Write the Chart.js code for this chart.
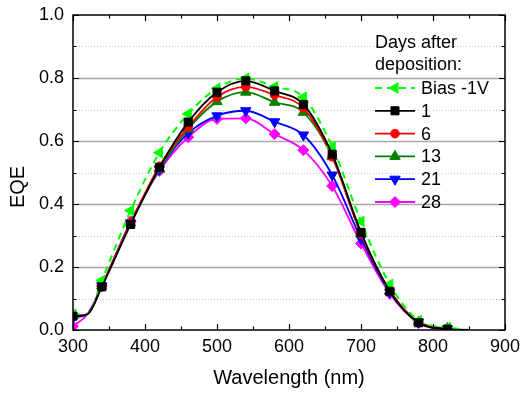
<!DOCTYPE html>
<html>
<head>
<meta charset="utf-8">
<script src="https://cdn.jsdelivr.net/npm/chart.js@4"></script>
<style>
  body { margin: 0; background: #fff; }
  canvas { display: block; }
</style>
</head>
<body>
<canvas id="eqeChart" width="521" height="393"></canvas>
<script>
// wavelength (nm); markers are only shown on every other 40 nm point
const wavelength = [300, 320, 340, 380, 420, 460, 500, 540, 580, 620, 660, 700, 740, 780, 820, 850];
const bias = [0.05, 0.05, 0.157, 0.379, 0.563, 0.686, 0.767, 0.799, 0.772, 0.739, 0.582, 0.345, 0.145, 0.03, 0.008, 0];
const day1 = [0.044, 0.05, 0.137, 0.335, 0.516, 0.66, 0.755, 0.791, 0.759, 0.716, 0.558, 0.31, 0.123, 0.023, 0.003, 0];
const day6 = [0.045, 0.05, 0.14, 0.34, 0.52, 0.645, 0.74, 0.772, 0.746, 0.705, 0.55, 0.305, 0.125, 0.025, 0.003, 0];
const day13 = [0.045, 0.05, 0.14, 0.34, 0.51, 0.638, 0.725, 0.755, 0.723, 0.691, 0.55, 0.305, 0.125, 0.025, 0.005, 0];
const day21 = [0.04, 0.05, 0.14, 0.34, 0.51, 0.625, 0.68, 0.696, 0.661, 0.619, 0.492, 0.29, 0.12, 0.025, 0.003, 0];
const day28 = [0.012, 0.05, 0.14, 0.345, 0.505, 0.612, 0.67, 0.672, 0.622, 0.571, 0.457, 0.275, 0.115, 0.022, 0.002, 0];
const seriesLabels = ['Bias -1V', '1', '6', '13', '21', '28'];
const xTicks = [300, 400, 500, 600, 700, 800, 900];
const yTicks = [0.0, 0.2, 0.4, 0.6, 0.8, 1.0];

const FONT = '"Liberation Sans", Arial, sans-serif';

function pts(values) {
    return wavelength.map((w, i) => ({ x: w, y: values[i] }));
}
function markerRadius(r) {
    return (ctx) => (ctx.raw && ctx.raw.x % 40 === 20) ? r : 0;
}
function series(label, values, color, style, radius, rotation, extra) {
    return Object.assign({
        label: label,
        data: pts(values),
        borderColor: color,
        backgroundColor: color,
        pointBackgroundColor: color,
        pointBorderColor: color,
        borderWidth: 1.8,
        pointStyle: style,
        pointRotation: rotation,
        pointRadius: markerRadius(radius),
        pointBorderWidth: 1,
        cubicInterpolationMode: 'monotone'
    }, extra || {});
}

const datasets = [
    series(seriesLabels[0], bias, '#00ff00', 'triangle', 6, 270, { borderDash: [7, 5], borderWidth: 2 }),
    series(seriesLabels[1], day1, '#000000', 'rect', 5.7, 0, { order: -1 }),
    series(seriesLabels[2], day6, '#ff0000', 'circle', 4.3, 0),
    series(seriesLabels[3], day13, '#008000', 'triangle', 6, 0),
    series(seriesLabels[4], day21, '#0000ff', 'triangle', 6, 180),
    series(seriesLabels[5], day28, '#ff00ff', 'rectRot', 5.5, 0)
];

function noPad(s) {
    s.paddingLeft = 0; s.paddingRight = 0; s.paddingTop = 0; s.paddingBottom = 0;
}

// grid, frame, inward ticks, axis titles and the legend
const framePlugin = {
    id: 'frame',
    beforeDatasetsDraw(chart) {
        const { ctx, chartArea: a, scales: { x, y } } = chart;
        ctx.save();
        for (let k = 1; k < 10; k++) {
            const py = Math.round(y.getPixelForValue(k / 10)) + 0.5;
            ctx.beginPath();
            if (k % 2 === 0) {
                ctx.strokeStyle = '#a8a8a8';
                ctx.lineWidth = 1.5;
                ctx.setLineDash([]);
            } else {
                ctx.strokeStyle = '#c8c8c8';
                ctx.lineWidth = 1;
                ctx.setLineDash([1, 2]);
            }
            ctx.moveTo(a.left, py);
            ctx.lineTo(a.right, py);
            ctx.stroke();
        }
        ctx.restore();
    },
    afterDraw(chart) {
        const { ctx, chartArea: a, scales: { x, y } } = chart;
        ctx.save();
        ctx.strokeStyle = '#000';
        ctx.lineWidth = 1.5;
        ctx.setLineDash([]);
        ctx.strokeRect(a.left, a.top, a.right - a.left, a.bottom - a.top);

        ctx.lineWidth = 1.2;
        ctx.beginPath();
        for (let w = 300; w <= 900; w += 50) {
            const px = Math.round(x.getPixelForValue(w)) + 0.5;
            const len = w % 100 === 0 ? 6 : 3.5;
            ctx.moveTo(px, a.bottom); ctx.lineTo(px, a.bottom - len);
            ctx.moveTo(px, a.top); ctx.lineTo(px, a.top + len);
        }
        for (let k = 0; k <= 10; k++) {
            const py = Math.round(y.getPixelForValue(k / 10)) + 0.5;
            const len = k % 2 === 0 ? 6 : 3.5;
            ctx.moveTo(a.left, py); ctx.lineTo(a.left + len, py);
            ctx.moveTo(a.right, py); ctx.lineTo(a.right - len, py);
        }
        ctx.stroke();

        // axis titles
        ctx.fillStyle = '#000';
        ctx.font = '20px ' + FONT;
        ctx.textAlign = 'center';
        ctx.textBaseline = 'middle';
        ctx.fillText('Wavelength (nm)', (a.left + a.right) / 2, 378);
        ctx.save();
        ctx.translate(18, 187);
        ctx.rotate(-Math.PI / 2);
        ctx.fillText('EQE', 0, 0);
        ctx.restore();

        // legend
        ctx.font = '18px ' + FONT;
        ctx.textAlign = 'left';
        ctx.textBaseline = 'alphabetic';
        ctx.fillText('Days after', 375, 48);
        ctx.fillText('deposition:', 375, 70);
        ctx.textBaseline = 'middle';
        chart.data.datasets.forEach((ds, i) => {
            const cy = 88 + i * 22.8;
            ctx.strokeStyle = ds.borderColor;
            ctx.fillStyle = ds.borderColor;
            ctx.lineWidth = ds.borderWidth;
            ctx.setLineDash(ds.borderDash || []);
            ctx.beginPath();
            ctx.moveTo(375, cy);
            ctx.lineTo(415, cy);
            ctx.stroke();
            ctx.setLineDash([]);
            ctx.lineWidth = 1;
            const r = typeof ds.pointRadius === 'function' ? ds.pointRadius({ raw: { x: 300 } }) : ds.pointRadius;
            Chart.helpers.drawPoint(ctx, {
                pointStyle: ds.pointStyle, rotation: ds.pointRotation, radius: r, borderWidth: 1
            }, 395, cy);
            ctx.fillStyle = '#000';
            ctx.fillText(ds.label, 421, cy + 1);
        });
        ctx.restore();
    }
};

new Chart(document.getElementById('eqeChart').getContext('2d'), {
    type: 'line',
    data: { datasets: datasets },
    options: {
        responsive: false,
        animation: false,
        devicePixelRatio: 1,
        layout: { padding: { top: 15, right: 16, left: 0, bottom: 0 } },
        plugins: { legend: { display: false }, tooltip: { enabled: false } },
        scales: {
            x: {
                type: 'linear',
                min: 300, max: 900,
                afterFit: (s) => { s.height = 63; noPad(s); },
                afterBuildTicks: (s) => { s.ticks = xTicks.map(v => ({ value: v })); },
                grid: { display: false, drawTicks: false },
                border: { display: false },
                ticks: { color: '#000', font: { size: 18, family: FONT }, padding: 6, maxRotation: 0,
                         callback: (v) => String(v) }
            },
            y: {
                type: 'linear',
                min: 0, max: 1,
                afterFit: (s) => { s.width = 73; noPad(s); },
                afterBuildTicks: (s) => { s.ticks = yTicks.map(v => ({ value: v })); },
                grid: { display: false, drawTicks: false },
                border: { display: false },
                ticks: { color: '#000', font: { size: 18, family: FONT }, padding: 9,
                         callback: (v) => Number(v).toFixed(1) }
            }
        }
    },
    plugins: [framePlugin]
});
</script>
</body>
</html>
